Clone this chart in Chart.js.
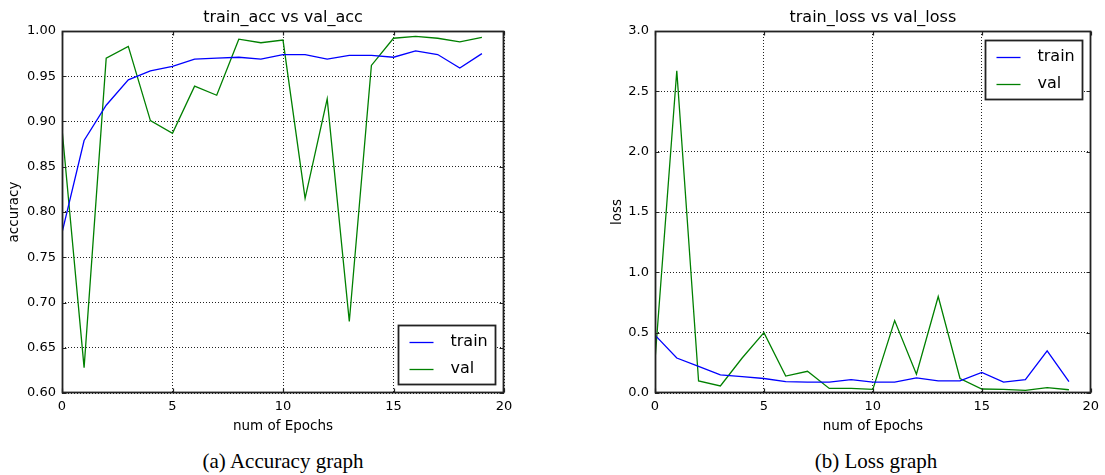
<!DOCTYPE html>
<html lang="en">
<head>
  <meta charset="UTF-8" />
  <title>train vs val</title>
  <script src="https://cdn.jsdelivr.net/npm/chart.js"></script>
  <style>
    body {
      margin: 0;
      background: #fff;
      font-family: 'DejaVu Sans', sans-serif;
    }

    .page {
      position: relative;
      width: 1105px;
      height: 475px;
      overflow: hidden;
    }

    canvas {
      position: absolute;
      top: 0;
    }

    #accChart { left: 0; }
    #lossChart { left: 552px; }

    .caption {
      position: absolute;
      top: 449px;
      width: 300px;
      text-align: center;
      font-family: 'Liberation Serif', serif;
      font-size: 21px;
      line-height: 24px;
      color: #000;
    }
  </style>
</head>
<body>
  <div class="page">
    <canvas id="accChart" width="552" height="440"></canvas>
    <canvas id="lossChart" width="553" height="440"></canvas>
    <div class="caption" style="left:133px">(a) Accuracy graph</div>
    <div class="caption" style="left:726px">(b) Loss graph</div>
  </div>

  <script>
    const epochs = [0, 1, 2, 3, 4, 5, 6, 7, 8, 9, 10, 11, 12, 13, 14, 15, 16, 17, 18, 19];

    const trainAcc = [0.777, 0.879, 0.918, 0.946, 0.956, 0.961, 0.969, 0.970, 0.971, 0.969,
                      0.974, 0.974, 0.969, 0.973, 0.973, 0.971, 0.978, 0.974, 0.959, 0.975];
    const valAcc = [0.892, 0.628, 0.970, 0.983, 0.901, 0.887, 0.939, 0.929, 0.991, 0.987,
                    0.990, 0.815, 0.925, 0.679, 0.962, 0.992, 0.994, 0.992, 0.988, 0.993];

    const trainLoss = [0.48, 0.29, 0.22, 0.15, 0.135, 0.12, 0.095, 0.09, 0.09, 0.11,
                       0.09, 0.09, 0.125, 0.10, 0.10, 0.17, 0.09, 0.11, 0.35, 0.095];
    const valLoss = [0.27, 2.67, 0.10, 0.058, 0.29, 0.50, 0.14, 0.18, 0.038, 0.038,
                     0.03, 0.60, 0.155, 0.80, 0.12, 0.033, 0.03, 0.022, 0.044, 0.027];

    const seriesNames = ['train', 'val'];
    const seriesColors = ['#0000ff', '#008000'];

    const xTicks = [0, 5, 10, 15, 20];
    const accTicks = [0.60, 0.65, 0.70, 0.75, 0.80, 0.85, 0.90, 0.95, 1.00];
    const lossTicks = [0.0, 0.5, 1.0, 1.5, 2.0, 2.5, 3.0];

    const pts = (ys) => epochs.map((e, i) => ({ x: e, y: ys[i] }));

    // box, inward tick marks, title and in-axes legend (matplotlib classic look)
    const decorPlugin = {
      id: 'decor',
      afterDatasetsDraw(chart, args, opts) {
        const { ctx, chartArea: a, scales } = chart;
        const L = Math.round(a.left) + 0.5, R = Math.round(a.right) - 0.5;
        const T = Math.round(a.top) + 0.5, B = Math.round(a.bottom) - 0.5;
        ctx.save();
        ctx.strokeStyle = '#222';
        ctx.lineWidth = 1.8;
        ctx.strokeRect(L, T, R - L, B - T);

        ctx.lineWidth = 1.2;
        ctx.beginPath();
        scales.x.ticks.forEach(t => {
          const px = Math.round(scales.x.getPixelForValue(t.value)) + 0.5;
          ctx.moveTo(px, B); ctx.lineTo(px, B - 4);
          ctx.moveTo(px, T); ctx.lineTo(px, T + 4);
        });
        scales.y.ticks.forEach(t => {
          const py = Math.round(scales.y.getPixelForValue(t.value)) + 0.5;
          ctx.moveTo(L, py); ctx.lineTo(L + 4, py);
          ctx.moveTo(R, py); ctx.lineTo(R - 4, py);
        });
        ctx.stroke();

        // title
        ctx.fillStyle = '#000';
        ctx.font = '16px "DejaVu Sans"';
        ctx.textAlign = 'center';
        ctx.textBaseline = 'middle';
        ctx.fillText(opts.title, (a.left + a.right) / 2, 18);

        // legend
        const w = 97, h = 59;
        const bx = Math.round(a.right - 9 - w) + 0.5;
        const by = opts.legendAt === 'top'
          ? Math.round(a.top + 9) + 0.5
          : Math.round(a.bottom - 9 - h) + 0.5;
        ctx.fillStyle = '#fff';
        ctx.fillRect(bx, by, w, h);
        ctx.strokeStyle = '#222';
        ctx.lineWidth = 1.8;
        ctx.strokeRect(bx, by, w, h);
        ctx.font = '16px "DejaVu Sans"';
        ctx.textAlign = 'left';
        chart.data.datasets.forEach((ds, i) => {
          const ly = by + 16 + i * 27;
          ctx.strokeStyle = ds.borderColor;
          ctx.lineWidth = 1.3;
          ctx.beginPath();
          ctx.moveTo(bx + 11, Math.round(ly) + 0.5);
          ctx.lineTo(bx + 35, Math.round(ly) + 0.5);
          ctx.stroke();
          ctx.fillStyle = '#000';
          ctx.fillText(ds.label, bx + 52, ly);
        });
        ctx.restore();
      }
    };

    function makeChart(id, series, yMin, yMax, yTicks, decimals, yTitle, title, legendAt, pad) {
      return new Chart(document.getElementById(id), {
        type: 'line',
        data: {
          datasets: series.map((ys, i) => ({
            label: seriesNames[i],
            data: pts(ys),
            borderColor: seriesColors[i],
            backgroundColor: seriesColors[i],
            borderWidth: 1.3,
            pointRadius: 0,
            tension: 0,
            fill: false
          }))
        },
        options: {
          responsive: false,
          animation: false,
          events: [],
          layout: { padding: { top: 31, right: pad.right, bottom: 0, left: pad.left } },
          plugins: {
            legend: { display: false },
            title: { display: false },
            tooltip: { enabled: false },
            decor: { title: title, legendAt: legendAt }
          },
          scales: {
            x: {
              type: 'linear',
              min: 0,
              max: 20,
              afterBuildTicks: s => { s.ticks = xTicks.map(v => ({ value: v })); },
              afterFit: s => { s.height = 47; },
              ticks: { padding: 6, color: '#000', maxRotation: 0, font: { family: 'DejaVu Sans', size: 13 } },
              grid: { color: '#222', lineWidth: 1, drawTicks: false },
              border: { display: false, dash: [1, 2] },
              title: {
                display: true,
                text: 'num of Epochs',
                color: '#000',
                padding: { top: 0, bottom: 5 },
                font: { family: 'DejaVu Sans', size: 13.5 }
              }
            },
            y: {
              type: 'linear',
              min: yMin,
              max: yMax,
              afterBuildTicks: s => { s.ticks = yTicks.map(v => ({ value: v })); },
              afterFit: s => { s.width = pad.yWidth; },
              ticks: {
                padding: 6,
                color: '#000',
                font: { family: 'DejaVu Sans', size: 13 },
                callback: v => Number(v).toFixed(decimals)
              },
              grid: { color: '#222', lineWidth: 1, drawTicks: false },
              border: { display: false, dash: [1, 2] },
              title: {
                display: true,
                text: yTitle,
                color: '#000',
                padding: { top: pad.yTitle, bottom: 0 },
                font: { family: 'DejaVu Sans', size: 13.5 }
              }
            }
          }
        },
        plugins: [decorPlugin]
      });
    }

    makeChart('accChart', [trainAcc, valAcc], 0.6, 1.0, accTicks, 2,
      'accuracy', 'train_acc vs val_acc', 'bottom',
      { left: 0, right: 48, yWidth: 62, yTitle: 6 });

    makeChart('lossChart', [trainLoss, valLoss], 0, 3.0, lossTicks, 1,
      'loss', 'train_loss vs val_loss', 'top',
      { left: 50, right: 9, yWidth: 53, yTitle: 7 });
  </script>
</body>
</html>
